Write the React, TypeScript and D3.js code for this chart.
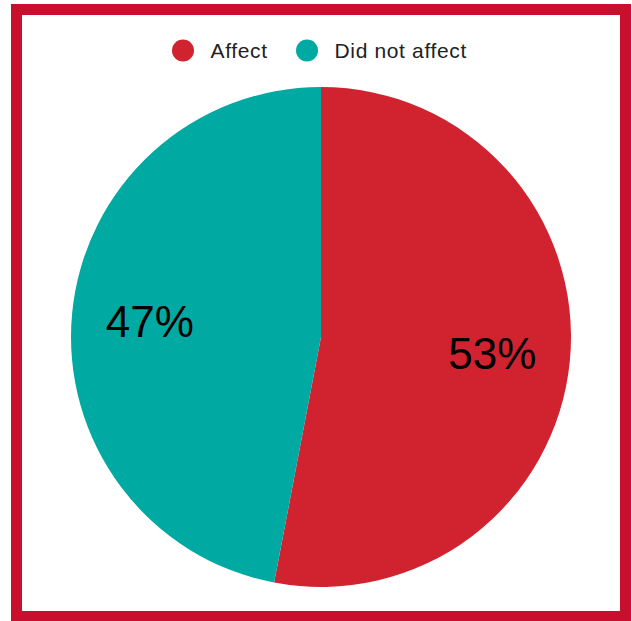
import React from "react";
import * as d3 from "d3";

const categories = ["Affect", "Did not affect"];
const values = [53, 47];
const colors = ["#D12230", "#00A9A1"];

const W = 632;
const H = 621;
const cx = 321;
const cy = 337;
const R = 250;

export default function App() {
  const pie = d3.pie<number>().sort(null).value((d) => d);
  const arcs = pie(values);
  const arc = d3.arc<d3.PieArcDatum<number>>().innerRadius(0).outerRadius(R);
  const labelArc = d3.arc<d3.PieArcDatum<number>>().innerRadius(344).outerRadius(0);
  const total = d3.sum(values);

  const legendX = [183, 307];
  return (
    <svg
      width={W}
      height={H}
      style={{ position: "absolute", left: 0, top: 0, background: "#fff" }}
      fontFamily="'Liberation Sans', Arial, sans-serif"
    >
      <rect x={0} y={0} width={W} height={H} fill="#fff" />
      <rect x={16.5} y={9.5} width={609} height={607} fill="none" stroke="#C8102E" strokeWidth={11} />
      <g>
        {categories.map((c, i) => (
          <g key={c}>
            <circle cx={legendX[i]} cy={50.5} r={11} fill={colors[i]} />
            <text x={legendX[i] + 27.5} y={57.5} fontSize={21} letterSpacing={0.65} fill="#222">
              {c}
            </text>
          </g>
        ))}
      </g>
      <g transform={`translate(${cx},${cy})`}>
        {arcs.map((a, i) => (
          <path key={i} d={arc(a) || ""} fill={colors[i]} />
        ))}
        {arcs.map((a, i) => {
          const [x, y] = labelArc.centroid(a);
          return (
            <text
              key={"l" + i}
              x={x}
              y={y + 16}
              textAnchor="middle"
              fontSize={44}
              fill="#000"
            >
              {Math.round((a.data / total) * 100)}%
            </text>
          );
        })}
      </g>
    </svg>
  );
}
